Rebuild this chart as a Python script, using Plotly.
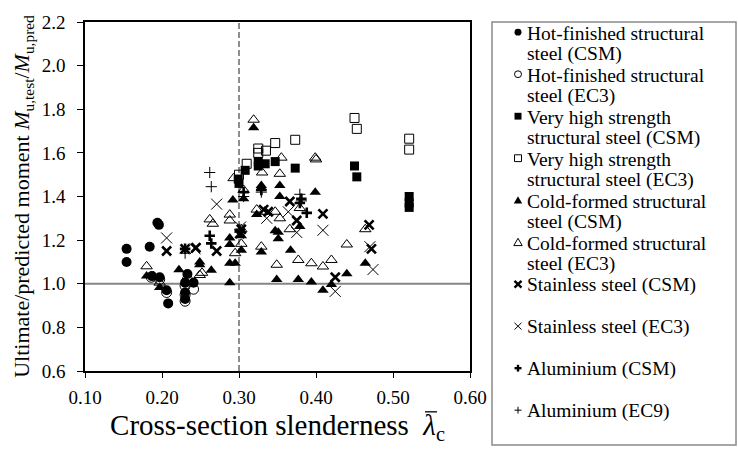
import plotly.graph_objects as go

# ---------------- data ----------------
hot_csm_x = [0.154, 0.154, 0.184, 0.194, 0.196, 0.187, 0.197, 0.206, 0.208, 0.233, 0.230, 0.241, 0.230, 0.230]
hot_csm_y = [1.16, 1.10, 1.17, 1.28, 1.27, 1.035, 1.03, 0.97, 0.91, 1.045, 1.005, 1.005, 0.96, 0.93]

hot_ec3_x = [0.186, 0.197, 0.206, 0.230, 0.241, 0.230, 0.230, 0.233]
hot_ec3_y = [1.03, 1.02, 0.96, 0.99, 0.975, 0.92, 0.95, 1.02]

vhs_csm_x = [0.299, 0.300, 0.308, 0.325, 0.325, 0.334, 0.347, 0.373, 0.450, 0.453, 0.521, 0.521, 0.521]
vhs_csm_y = [1.48, 1.46, 1.52, 1.56, 1.54, 1.55, 1.56, 1.53, 1.54, 1.49, 1.40, 1.37, 1.35]

vhs_ec3_x = [0.300, 0.310, 0.325, 0.325, 0.335, 0.347, 0.373, 0.450, 0.453, 0.521, 0.521]
vhs_ec3_y = [1.50, 1.55, 1.62, 1.60, 1.61, 1.645, 1.66, 1.76, 1.71, 1.665, 1.615]

cf_csm_x = [0.180, 0.189, 0.197, 0.222, 0.249, 0.249, 0.264, 0.288, 0.295, 0.288, 0.288, 0.288,
            0.303, 0.303, 0.292, 0.306, 0.319, 0.329, 0.329, 0.353, 0.353, 0.399, 0.323, 0.347,
            0.351, 0.351, 0.379, 0.329, 0.367, 0.349, 0.377, 0.394, 0.409, 0.420, 0.440, 0.464]
cf_csm_y = [1.035, 1.035, 0.983, 1.064, 1.087, 1.10, 1.062, 1.094, 1.094, 1.005, 1.21, 1.18,
            1.154, 1.22, 1.384, 1.39, 1.715, 1.45, 1.44, 1.45, 1.40, 1.42, 1.317, 1.243,
            1.236, 1.206, 1.262, 1.146, 1.154, 1.02, 1.02, 1.008, 0.97, 0.997, 1.046, 1.094]

cf_ec3_x = [0.180, 0.197, 0.249, 0.252, 0.262, 0.266, 0.288, 0.288, 0.295, 0.303, 0.303, 0.293,
            0.306, 0.319, 0.330, 0.329, 0.323, 0.334, 0.347, 0.353, 0.366, 0.379, 0.353, 0.355,
            0.399, 0.400, 0.349, 0.377, 0.394, 0.409, 0.420, 0.440, 0.464]
cf_ec3_y = [1.08, 1.005, 1.04, 1.05, 1.295, 1.275, 1.317, 1.29, 1.14, 1.25, 1.183, 1.484,
            1.43, 1.752, 1.51, 1.17, 1.34, 1.33, 1.33, 1.30, 1.25, 1.347, 1.504, 1.578,
            1.578, 1.57, 1.087, 1.109, 1.094, 1.079, 1.109, 1.18, 1.25]

ss_csm_x = [0.206, 0.230, 0.244, 0.271, 0.301, 0.303, 0.332, 0.338, 0.366, 0.375, 0.409, 0.425, 0.469, 0.472]
ss_csm_y = [1.15, 1.16, 1.165, 1.15, 1.23, 1.25, 1.34, 1.33, 1.377, 1.29, 1.32, 1.03, 1.27, 1.16]

ss_ec3_x = [0.206, 0.243, 0.271, 0.302, 0.336, 0.364, 0.375, 0.409, 0.425, 0.470, 0.474]
ss_ec3_y = [1.21, 1.16, 1.365, 1.26, 1.30, 1.33, 1.235, 1.245, 0.965, 1.17, 1.065]

al_csm_x = [0.230, 0.262, 0.264, 0.301, 0.306, 0.329, 0.381, 0.388, 0.379]
al_csm_y = [1.16, 1.22, 1.185, 1.24, 1.42, 1.43, 1.39, 1.325, 1.37]

al_ec9_x = [0.230, 0.262, 0.264, 0.301, 0.329, 0.379, 0.381, 0.306]
al_ec9_y = [1.14, 1.51, 1.445, 1.25, 1.42, 1.41, 1.38, 1.40]

series_names = [
    "Hot-finished structural steel (CSM)",
    "Hot-finished structural steel (EC3)",
    "Very high strength structural steel (CSM)",
    "Very high strength structural steel (EC3)",
    "Cold-formed structural steel (CSM)",
    "Cold-formed structural steel (EC3)",
    "Stainless steel (CSM)",
    "Stainless steel (EC3)",
    "Aluminium (CSM)",
    "Aluminium (EC9)",
]
legend_lines = [
    ["Hot-finished structural", "steel (CSM)"],
    ["Hot-finished structural", "steel (EC3)"],
    ["Very high strength", "structural steel (CSM)"],
    ["Very high strength", "structural steel (EC3)"],
    ["Cold-formed structural", "steel (CSM)"],
    ["Cold-formed structural", "steel (EC3)"],
    ["Stainless steel (CSM)"],
    ["Stainless steel (EC3)"],
    ["Aluminium (CSM)"],
    ["Aluminium (EC9)"],
]
x_ticks = [0.10, 0.20, 0.30, 0.40, 0.50, 0.60]
y_ticks = [0.6, 0.8, 1.0, 1.2, 1.4, 1.6, 1.8, 2.0, 2.2]
ref_ratio = 1.0
limit_slenderness = 0.30

# ---------------- figure ----------------
W, H = 738, 449
L, R, T, B = 85, 470, 12, 371
FONT = "Liberation Serif"

def px_x(p):
    return (p - L) / (R - L)

def px_y(p):
    return (B - p) / (B - T)

styles = [
    dict(symbol="circle", size=10, color="black", line=dict(width=0)),
    dict(symbol="circle-open", size=10, color="black", line=dict(width=1, color="black")),
    dict(symbol="square", size=9, color="black", line=dict(width=0)),
    dict(symbol="square-open", size=9, color="black", line=dict(width=1, color="black")),
    dict(symbol="triangle-up", size=10, color="black", line=dict(width=0)),
    dict(symbol="triangle-up-open", size=10, color="black", line=dict(width=1, color="black")),
    dict(symbol="x-thin", size=9, color="black", line=dict(width=2.6, color="black")),
    dict(symbol="x-thin", size=11, color="black", line=dict(width=1, color="black")),
    dict(symbol="cross-thin", size=7.5, color="black", line=dict(width=2.6, color="black")),
    dict(symbol="cross-thin", size=8, color="black", line=dict(width=1, color="black")),
]
data = [
    (hot_csm_x, hot_csm_y), (hot_ec3_x, hot_ec3_y),
    (vhs_csm_x, vhs_csm_y), (vhs_ec3_x, vhs_ec3_y),
    (cf_csm_x, cf_csm_y), (cf_ec3_x, cf_ec3_y),
    (ss_csm_x, ss_csm_y), (ss_ec3_x, ss_ec3_y),
    (al_csm_x, al_csm_y), (al_ec9_x, al_ec9_y),
]

fig = go.Figure()
for name, (xs, ys), st in zip(series_names, data, styles):
    fig.add_trace(go.Scatter(x=xs, y=ys, mode="markers", name=name,
                             marker=st, showlegend=False, cliponaxis=False))

# reference lines
fig.add_shape(type="line", xref="x", yref="y", x0=x_ticks[0], x1=x_ticks[-1],
              y0=ref_ratio, y1=ref_ratio, line=dict(color="#858585", width=1.8), layer="below")
fig.add_shape(type="line", xref="x", yref="y", x0=limit_slenderness, x1=limit_slenderness,
              y0=y_ticks[0], y1=y_ticks[-1], line=dict(color="#444444", width=1.2, dash="6px,3px"),
              layer="below")

# legend box
fig.add_shape(type="rect", xref="paper", yref="paper",
              x0=px_x(492), x1=px_x(736), y0=px_y(447), y1=px_y(12),
              line=dict(color="#8a8a8a", width=1.5), fillcolor="white", layer="below")

# overbar of the slenderness symbol in the x-axis title
fig.add_shape(type="line", xref="paper", yref="paper",
              x0=px_x(425), x1=px_x(437), y0=px_y(413), y1=px_y(413),
              line=dict(color="black", width=1.3))

annotations = []
line0, pitch = 22.5, 21.6
sym_x = 518
text_x = 526
slot = 0
for i, lines in enumerate(legend_lines):
    yc = line0 + slot * pitch
    for j, t in enumerate(lines):
        annotations.append(dict(text=t, xref="paper", yref="paper",
                                x=px_x(text_x), y=px_y(yc + j * pitch + 1),
                                xanchor="left", yanchor="middle", showarrow=False,
                                borderpad=0,
                                font=dict(family=FONT, size=19.5, color="black")))
    slot += 2
    s = 3.5
    if i == 0:
        fig.add_shape(type="circle", xref="paper", yref="paper",
                      x0=px_x(sym_x - s), x1=px_x(sym_x + s), y0=px_y(yc + s), y1=px_y(yc - s),
                      fillcolor="black", line=dict(width=0))
    elif i == 1:
        fig.add_shape(type="circle", xref="paper", yref="paper",
                      x0=px_x(sym_x - s), x1=px_x(sym_x + s), y0=px_y(yc + s), y1=px_y(yc - s),
                      fillcolor="rgba(0,0,0,0)", line=dict(width=1, color="black"))
    elif i == 2:
        fig.add_shape(type="rect", xref="paper", yref="paper",
                      x0=px_x(sym_x - s), x1=px_x(sym_x + s), y0=px_y(yc + s), y1=px_y(yc - s),
                      fillcolor="black", line=dict(width=0))
    elif i == 3:
        fig.add_shape(type="rect", xref="paper", yref="paper",
                      x0=px_x(sym_x - s), x1=px_x(sym_x + s), y0=px_y(yc + s), y1=px_y(yc - s),
                      fillcolor="rgba(0,0,0,0)", line=dict(width=1, color="black"))
    elif i in (4, 5):
        p = (f"M {px_x(sym_x - 4.2)} {px_y(yc + 3.5)} L {px_x(sym_x + 4.2)} {px_y(yc + 3.5)} "
             f"L {px_x(sym_x)} {px_y(yc - 4)} Z")
        fig.add_shape(type="path", xref="paper", yref="paper", path=p,
                      fillcolor="black" if i == 4 else "rgba(0,0,0,0)",
                      line=dict(width=0 if i == 4 else 1, color="black"))
    elif i in (6, 7):
        w = 2.4 if i == 6 else 1.0
        fig.add_shape(type="line", xref="paper", yref="paper",
                      x0=px_x(sym_x - s), x1=px_x(sym_x + s), y0=px_y(yc - s), y1=px_y(yc + s),
                      line=dict(width=w, color="black"))
        fig.add_shape(type="line", xref="paper", yref="paper",
                      x0=px_x(sym_x - s), x1=px_x(sym_x + s), y0=px_y(yc + s), y1=px_y(yc - s),
                      line=dict(width=w, color="black"))
    else:
        w = 2.4 if i == 8 else 1.0
        fig.add_shape(type="line", xref="paper", yref="paper",
                      x0=px_x(sym_x - s), x1=px_x(sym_x + s), y0=px_y(yc), y1=px_y(yc),
                      line=dict(width=w, color="black"))
        fig.add_shape(type="line", xref="paper", yref="paper",
                      x0=px_x(sym_x), x1=px_x(sym_x), y0=px_y(yc - s), y1=px_y(yc + s),
                      line=dict(width=w, color="black"))

fig.update_layout(
    width=W, height=H,
    margin=dict(l=L, r=W - R, t=T, b=H - B, pad=0),
    paper_bgcolor="white", plot_bgcolor="white",
    font=dict(family=FONT, color="black"),
    showlegend=False,
    annotations=annotations,
)
fig.update_xaxes(
    range=[x_ticks[0], x_ticks[-1]], tickvals=x_ticks, tickformat=".2f",
    showgrid=False, zeroline=False, showline=True, mirror=True,
    linecolor="black", linewidth=1.5, ticks="outside", ticklen=5, tickwidth=1.2, tickcolor="black",
    tickfont=dict(family=FONT, size=19), ticklabelstandoff=3,
    title=dict(text="Cross-section slenderness\u00a0\u00a0<i>λ</i><sub>c</sub>",
               font=dict(family=FONT, size=29), standoff=8),
)
fig.update_yaxes(
    range=[y_ticks[0], y_ticks[-1]], tickvals=y_ticks, tickformat=".1f",
    showgrid=False, zeroline=False, showline=True, mirror=True,
    linecolor="black", linewidth=1.5, ticks="outside", ticklen=6, tickwidth=1.2, tickcolor="black",
    tickfont=dict(family=FONT, size=19), ticklabelstandoff=8,
    title=dict(text="Ultimate/predicted moment <i>M</i><sub>u,test</sub>/<i>M</i><sub>u,pred</sub>",
               font=dict(family=FONT, size=22), standoff=6),
)

fig.write_html("out.html")
